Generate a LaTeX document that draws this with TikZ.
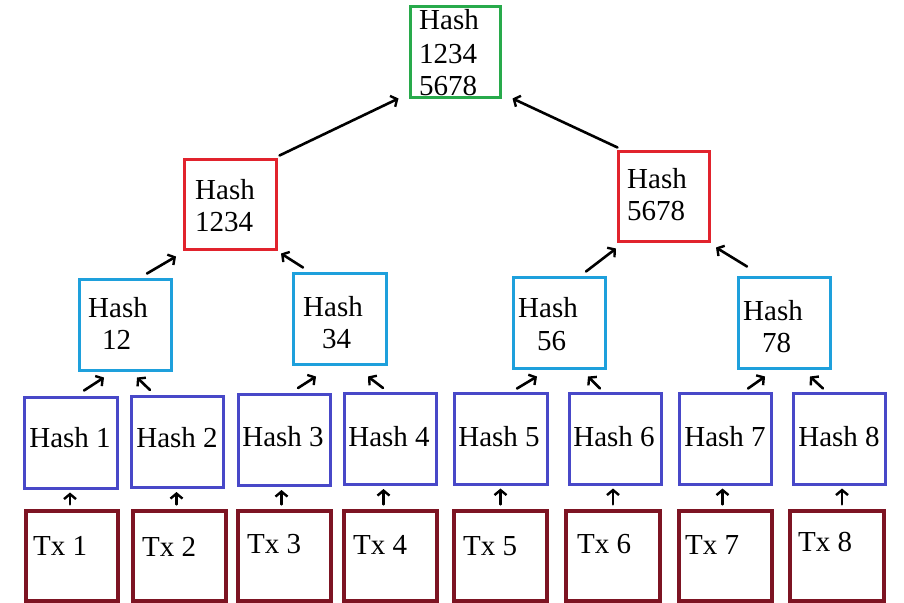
\documentclass[tikz,border=0pt]{standalone}
\usepackage{fontspec}
\setmainfont{Liberation Serif}
\usetikzlibrary{arrows.meta}
\definecolor{cgreen}{RGB}{40,170,75}
\definecolor{cred}{RGB}{225,35,45}
\definecolor{clblue}{RGB}{30,160,220}
\definecolor{cpurp}{RGB}{72,72,200}
\definecolor{cdred}{RGB}{125,20,35}
\begin{document}
\begin{tikzpicture}[x=1pt,y=-1pt,
  box/.style={draw, line width=3pt, minimum width=92pt, minimum height=91pt, inner sep=0pt},
  txbox/.style={box, draw=cdred, line width=3.3pt, minimum height=90pt},
  lbl/.style={font=\fontsize{29}{35}\selectfont, text height=19pt, text depth=0pt, inner sep=0pt, anchor=west},
  clbl/.style={lbl, anchor=center},
  arr/.style={-{Straight Barb[length=5pt,width=12pt,line width=2.4pt]}, line width=2.6pt, line cap=round}]
\useasboundingbox (0,0) rectangle (904,602);
% root
\node[box, draw=cgreen, minimum width=90pt, minimum height=90pt] (root) at (455,52) {};
\node[lbl] (root1) at (419,20.5) {Hash};
\node[lbl] (root2) at (419,54) {1234};
\node[lbl] (root3) at (419,86) {5678};
% red level
\node[box, draw=cred, minimum height=90pt] (r1) at (230,204) {};
\node[lbl] (r1a) at (195,190) {Hash};
\node[lbl] (r1b) at (195,222) {1234};
\node[box, draw=cred, minimum width=91pt, minimum height=90pt] (r2) at (663.5,196) {};
\node[lbl] (r2a) at (627,179) {Hash};
\node[lbl] (r2b) at (627,211) {5678};
% light blue level
\node[box, draw=clblue] (b12) at (125,324.5) {};
\node[lbl] (b12a) at (88,308) {Hash};
\node[lbl] (b12b) at (102,340) {12};
\node[box, draw=clblue, minimum width=93pt] (b34) at (339.5,318.5) {};
\node[lbl] (b34a) at (303,307) {Hash};
\node[lbl] (b34b) at (322,339) {34};
\node[box, draw=clblue] (b56) at (559,322.5) {};
\node[lbl] (b56a) at (518,308) {Hash};
\node[lbl] (b56b) at (537,341) {56};
\node[box, draw=clblue] (b78) at (784,322.5) {};
\node[lbl] (b78a) at (743,311) {Hash};
\node[lbl] (b78b) at (762,343) {78};
% hash level
\node[box, draw=cpurp, minimum width=93pt] (h1) at (70.5,442.5) {};
\node[box, draw=cpurp] (h2) at (177,442) {};
\node[box, draw=cpurp] (h3) at (284,440) {};
\node[box, draw=cpurp] (h4) at (390,439) {};
\node[box, draw=cpurp, minimum width=93pt] (h5) at (500.5,438.5) {};
\node[box, draw=cpurp] (h6) at (615,438.5) {};
\node[box, draw=cpurp] (h7) at (725,438.5) {};
\node[box, draw=cpurp] (h8) at (839,438.5) {};
\node[clbl] (h1t) at (70,438) {Hash 1};
\node[clbl] (h2t) at (177,438) {Hash 2};
\node[clbl] (h3t) at (283,437) {Hash 3};
\node[clbl] (h4t) at (389,437) {Hash 4};
\node[clbl] (h5t) at (499,437) {Hash 5};
\node[clbl] (h6t) at (614,437) {Hash 6};
\node[clbl] (h7t) at (725,437) {Hash 7};
\node[clbl] (h8t) at (839,437) {Hash 8};
% tx level
\node[txbox] (t1) at (72,556) {};
\node[txbox, minimum width=93pt] (t2) at (179.5,556) {};
\node[txbox, minimum width=93pt] (t3) at (284.5,556) {};
\node[txbox, minimum width=93pt] (t4) at (390.5,556) {};
\node[txbox, minimum width=93pt] (t5) at (500.5,556) {};
\node[txbox, minimum width=94pt] (t6) at (613,556) {};
\node[txbox, minimum width=93pt] (t7) at (725.5,556) {};
\node[txbox, minimum width=94pt] (t8) at (837,556) {};
\node[lbl] (t1t) at (33,546) {Tx 1};
\node[lbl] (t2t) at (142,547) {Tx 2};
\node[lbl] (t3t) at (247,544) {Tx 3};
\node[lbl] (t4t) at (353,545) {Tx 4};
\node[lbl] (t5t) at (463,546) {Tx 5};
\node[lbl] (t6t) at (577,544) {Tx 6};
\node[lbl] (t7t) at (685,545) {Tx 7};
\node[lbl] (t8t) at (798,542) {Tx 8};
% tx -> hash arrows
\foreach \t/\h/\dx in {t1/h1/-2,t2/h2/-3,t3/h3/-3,t4/h4/-7,t5/h5/0,t6/h6/0,t7/h7/-3,t8/h8/5}{
  \draw[arr, shorten >=3pt] ([shift={(\dx,-5)}]\t.north) -- ([shift={(\dx,0)}]\t.north |- \h.south);
}
% hash -> light blue arrows
\draw[arr] ([shift={(13.5,-5)}]h1.north) -- ([shift={(-21,6)}]b12.south);
\draw[arr] ([shift={(-27,-5)}]h2.north) -- ([shift={(12,6)}]b12.south);
\draw[arr] ([shift={(14,-5)}]h3.north) -- ([shift={(-23.5,11)}]b34.south);
\draw[arr] ([shift={(-7,-4)}]h4.north) -- ([shift={(28.5,11)}]b34.south);
\draw[arr] ([shift={(16.5,-3)}]h5.north) -- ([shift={(-22,7)}]b56.south);
\draw[arr] ([shift={(-15,-3)}]h6.north) -- ([shift={(29,7)}]b56.south);
\draw[arr] ([shift={(23,-3)}]h7.north) -- ([shift={(-19,7)}]b78.south);
\draw[arr] ([shift={(-16,-3)}]h8.north) -- ([shift={(26,7)}]b78.south);
% light blue -> red
\draw[arr] ([shift={(22,-4)}]b12.north) -- ([shift={(-54,6)}]r1.south);
\draw[arr] ([shift={(-36.5,-4)}]b34.north) -- ([shift={(51,3)}]r1.south);
\draw[arr] ([shift={(27,-4)}]b56.north) -- ([shift={(-47.5,6)}]r2.south);
\draw[arr] ([shift={(-37,-9)}]b78.north) -- ([shift={(52.5,5)}]r2.south);
% red -> root
\draw[arr] ([shift={(2,-2)}]r1.north east) -- ([shift={(-10,0)}]root.south west);
\draw[arr] ([shift={(1,-2)}]r2.north west) -- ([shift={(11,0)}]root.south east);
\end{tikzpicture}
\end{document}
